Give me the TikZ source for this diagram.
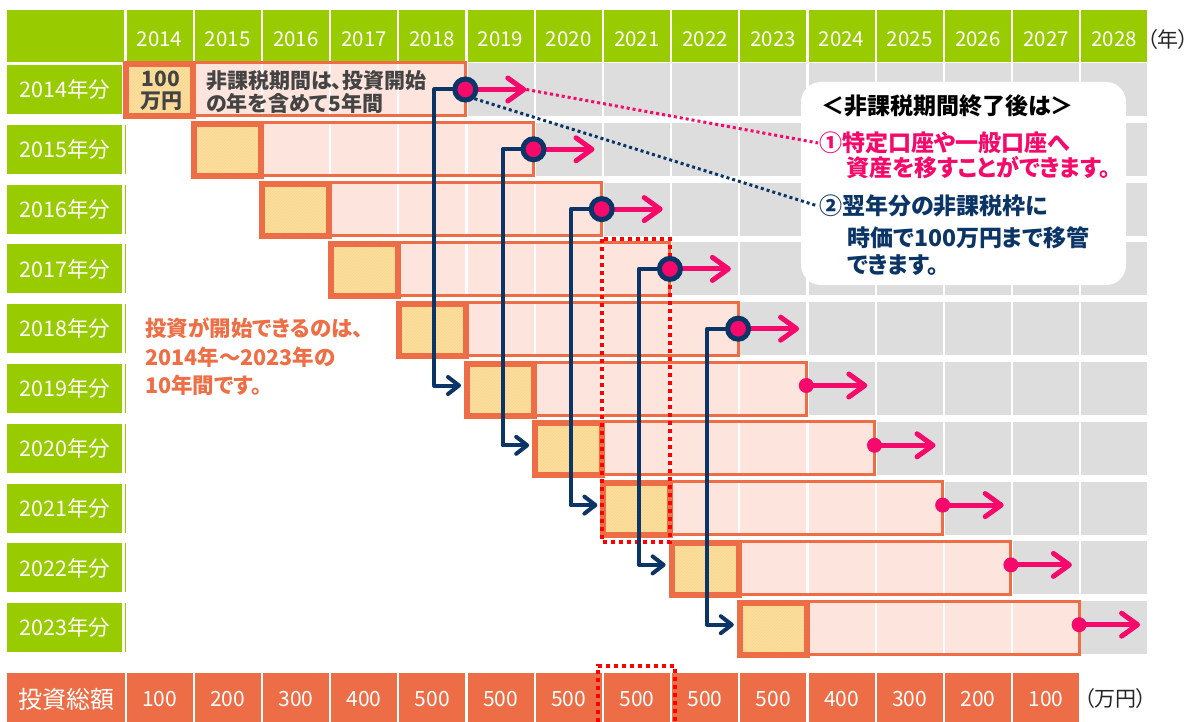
\documentclass[tikz,border=0pt]{standalone}
\usepackage{fontspec}
\setmainfont{Noto Sans CJK JP}[RawFeature=+palt]
\usetikzlibrary{arrows.meta,calc,patterns}
\definecolor{grn}{HTML}{99CC00}
\definecolor{org}{HTML}{ED6D46}
\definecolor{pnk}{HTML}{FDE4DD}
\definecolor{ylw}{HTML}{FDDF9E}
\definecolor{ylwd}{HTML}{F9D58E}
\definecolor{gry}{HTML}{DDDDDD}
\definecolor{mag}{HTML}{F5096B}
\definecolor{nvy}{HTML}{0A3566}
\definecolor{rd}{HTML}{FF0000}
\definecolor{dgr}{HTML}{444444}
\definecolor{otx}{HTML}{EE6E45}
\pgfdeclarelayer{front}
\pgfsetlayers{main,front}
\begin{document}
\begin{tikzpicture}[x=1pt,y=-1pt,
  hdr/.style={text=white, font=\fontsize{20.5}{20.5}\selectfont, inner sep=0},
  rowlbl/.style={text=white, font=\fontsize{21.5}{21.5}\selectfont, inner sep=0},
  totlbl/.style={text=white, font=\fontsize{24}{24}\selectfont, inner sep=0},
  totval/.style={text=white, font=\fontsize{21}{21}\selectfont, inner sep=0},
  unit/.style={text=black!85, font=\fontsize{21}{21}\selectfont, inner sep=0},
  ybox/.style={draw=org, line width=6, preaction={fill=ylw}, pattern=north east lines, pattern color=ylwd, minimum width=67, minimum height=52, inner sep=0},
  ncirc/.style={circle, draw=nvy, fill=mag, line width=5, minimum size=21, inner sep=0},
  pdot/.style={circle, fill=mag, minimum size=15, inner sep=0},
  parrow/.style={draw=mag, line width=5, -{Straight Barb[length=16pt,width=23pt,round]}},
  narrow/.style={draw=nvy, line width=4, line join=round, -{Straight Barb[length=11pt,width=17pt,round]}},
  rdot/.style={draw=rd, line width=4, dash pattern=on 4pt off 4pt},
  pdotline/.style={draw=mag, line width=3, dash pattern=on 3pt off 3pt},
  ndotline/.style={draw=nvy, line width=3, dash pattern=on 3pt off 3pt},
  bartxt/.style={text=dgr, font=\bfseries\fontsize{21}{21}\selectfont, inner sep=0},
  otxt/.style={text=otx, font=\bfseries\fontsize{21.5}{21.5}\selectfont, inner sep=0, anchor=west},
  calltxt/.style={font=\bfseries\fontsize{23}{23}\selectfont, inner sep=1, anchor=west},
  callout/.style={fill=white, rounded corners=20pt, minimum width=325, minimum height=203, inner sep=0}
]
\useasboundingbox (0,0) rectangle (1198,722);
\fill[white] (0,0) rectangle (1198,722);

% header
\fill[grn] (7,10) rectangle (124,62);
\foreach \j in {0,...,14}{
  \pgfmathsetmacro\L{126.5+68.2*\j}
  \pgfmathtruncatemacro\yr{2014+\j}
  \fill[grn] (\L,10) rectangle ++(66,52);
  \node[hdr] (h\j) at (\L+33,39) {\yr};
}
\node[unit, anchor=east] (nen) at (1189,40) {（年）};

% rows
\foreach \i in {0,...,9}{
  \pgfmathsetmacro\T{63+59.8*\i}
  \pgfmathsetmacro\B{\T+53}
  \pgfmathsetmacro\M{\T+26.5}
  \pgfmathtruncatemacro\yr{2014+\i}
  \fill[grn] (7,\T+2) rectangle (122,\B-2);
  \draw[grn, line width=1] (125.5,\T+2) -- (125.5,\B-2);
  \node[rowlbl] (r\i) at (65,\M) {\yr 年分};
  \pgfmathtruncatemacro\s{\i+5}
  \foreach \j in {\s,...,14}{
    \pgfmathsetmacro\L{126.5+68.2*\j}
    \fill[gry] (\L,\T) rectangle ++(66,53);
  }
  \pgfmathsetmacro\BL{126.5+68.2*\i}
  \pgfmathsetmacro\BR{\BL+68.2*4+66}
  \fill[pnk] (\BL,\T) rectangle (\BR,\B);
  \foreach \k in {1,...,4}{
    \fill[white] (\BL+68.2*\k-2.2,\T) rectangle ++(2.2,53);
  }
  \draw[org, line width=3] (\BL,\T) rectangle (\BR,\B);
  \node[ybox] (y\i) at (\BL+33,\M+1) {};
  \ifnum\i<5
    \coordinate (a\i) at (\BR+61,\M);
    \begin{pgfonlayer}{front}
      \node[ncirc] (c\i) at (\BR,\M) {};
    \end{pgfonlayer}
  \else
    \coordinate (a\i) at (\BR+61,\M-3);
    \begin{pgfonlayer}{front}
      \node[pdot] (c\i) at (\BR,\M-3) {};
    \end{pgfonlayer}
  \fi
  \draw[parrow] (c\i.center) -- (a\i);
}

% texts inside first bar
\node[bartxt] (v100) at (161,79) {100};
\node[bartxt] (vman) at (161,101) {万円};
\node[bartxt, anchor=west] (b1) at (206,81) {非課税期間は、投資開始};
\node[bartxt, anchor=west] (b2) at (206,103) {の年を含めて5年間};

% orange note
\node[otxt] (o1) at (145,328) {投資が開始できるのは、};
\node[otxt] (o2) at (145,357) {2014年～2023年の};
\node[otxt] (o3) at (145,385) {10年間です。};

% red dotted highlight
\draw[rdot] (602,239) rectangle (670,542);

% navy connectors
\foreach \i in {0,...,4}{
  \pgfmathtruncatemacro\k{\i+5}
  \draw[narrow] (c\i.center) -- ++(-31,0) |- ($(y\k.west)+(-3,-4)$);
}

% totals row
\fill[org] (7,673) rectangle (125,722);
\node[totlbl] (tl) at (66,699) {投資総額};
\foreach \v [count=\j from 0] in {100,200,300,400,500,500,500,500,500,500,400,300,200,100}{
  \pgfmathsetmacro\L{126.5+68.2*\j}
  \fill[org] (\L,673) rectangle ++(66,49);
  \node[totval] (t\j) at (\L+33,699) {\v};
}
\node[unit, anchor=west] (man) at (1084,699) {（万円）};
\draw[rdot] (598,722) -- (598,666) -- (675,666) -- (675,722);

% callout
\node[callout] (call) at (963.5,183.5) {};
\node[calltxt, text=black] (ct) at (820,106) {＜非課税期間終了後は＞};
\node[calltxt, text=mag] (n1) at (818,143) {①特定口座や一般口座へ};
\node[calltxt, text=mag] (n1b) at (845,168) {資産を移すことができます。};
\node[calltxt, text=nvy] (n2) at (818,206) {②翌年分の非課税枠に};
\node[calltxt, text=nvy] (n2b) at (846,238) {時価で100万円まで移管};
\node[calltxt, text=nvy] (n2c) at (846,265) {できます。};

\draw[pdotline] (a0) -- (n1.west);
\draw[ndotline] (c0.south east) -- (n2.west);
\end{tikzpicture}
\end{document}
